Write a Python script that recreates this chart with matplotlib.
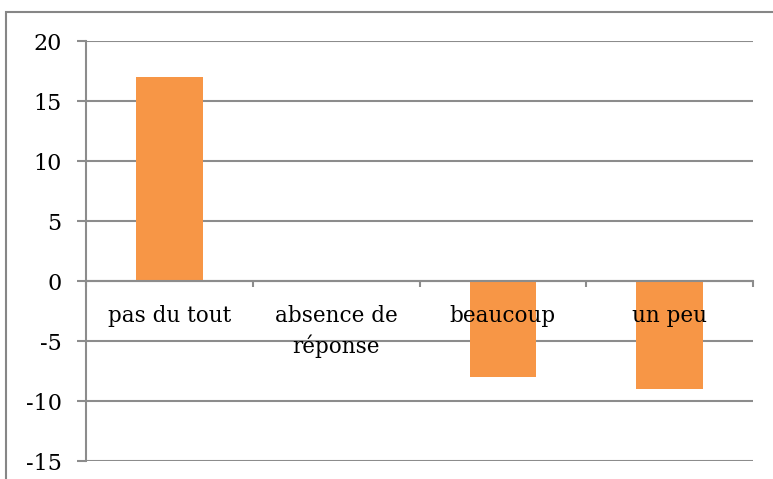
import numpy as np
import matplotlib.pyplot as plt
from matplotlib.patches import Rectangle

categories = ['pas du tout', 'absence de\nréponse', 'beaucoup', 'un peu']
values = [17, 0, -8, -9]
y_ticks = [-15, -10, -5, 0, 5, 10, 15, 20]

BAR_COLOR = '#F79646'
GRID_COLOR = '#8C8C8C'

plt.rcParams['font.family'] = ['DejaVu Serif']
plt.rcParams['axes.unicode_minus'] = False

W, H = 773, 479
fig = plt.figure(figsize=(W / 100, H / 100), dpi=100)
ax = fig.add_axes([86 / W, 1 - 461 / H, (753 - 86) / W, (461 - 41) / H])

x = np.arange(len(categories))
ax.bar(x, values, width=0.4, color=BAR_COLOR, zorder=3)

ax.set_xlim(-0.5, len(categories) - 0.5)
ax.set_ylim(-15, 20)
ax.set_yticks(y_ticks)
ax.yaxis.grid(True, color=GRID_COLOR, linewidth=1.5)
ax.set_axisbelow(True)
# category labels sit on top of the bars
ax.xaxis.set_zorder(5)

for side in ['top', 'right']:
    ax.spines[side].set_visible(False)
ax.spines['left'].set_color(GRID_COLOR)
ax.spines['left'].set_linewidth(1.5)
ax.spines['bottom'].set_position(('data', 0))
ax.spines['bottom'].set_color(GRID_COLOR)
ax.spines['bottom'].set_linewidth(1.5)
ax.spines['bottom'].set_zorder(4)

ax.set_xticks(x)
ax.set_xticklabels(categories, fontsize=15.5)
ax.set_xticks(np.arange(len(categories) + 1) - 0.5, minor=True)
ax.tick_params(axis='x', which='major', length=0, pad=17)
ax.tick_params(axis='x', which='minor', length=4.5, width=1.5, color=GRID_COLOR, direction='out')
for lbl in ax.get_xticklabels():
    lbl.set_linespacing(1.45)

ax.tick_params(axis='y', length=6.5, width=1.5, color=GRID_COLOR, pad=11, labelsize=16)

# outer chart border
fig.patches.append(Rectangle((6 / W, -0.2), 2, (1 - 12 / H) + 0.2, transform=fig.transFigure,
                             fill=False, edgecolor='#868686', linewidth=1.5))

fig.savefig('out.png', dpi=100)
